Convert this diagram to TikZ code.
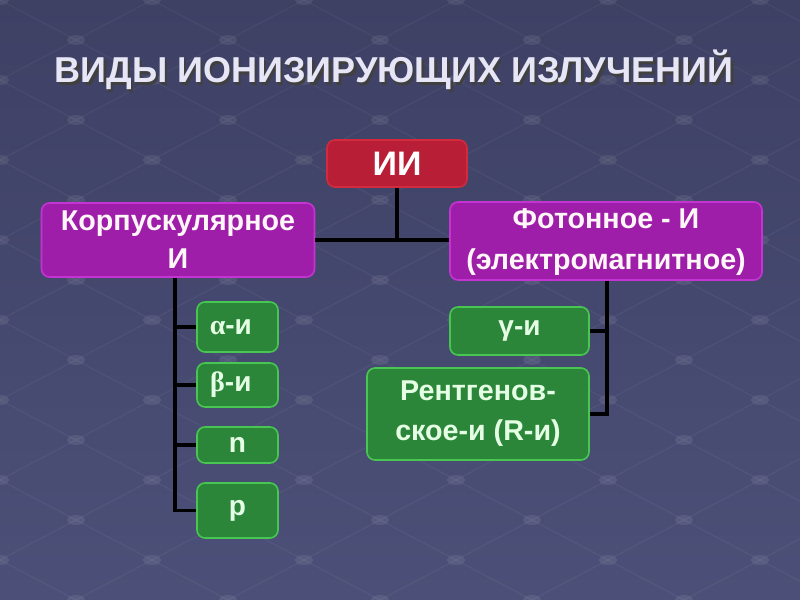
\documentclass[tikz,border=0pt]{standalone}
\usepackage{fontspec}
\setmainfont{Liberation Sans}
\newfontfamily\griech{Liberation Serif}
\usepackage{tikz}
\usetikzlibrary{positioning}

\definecolor{bgtop}{RGB}{62,64,100}
\definecolor{bgbot}{RGB}{76,80,120}
\definecolor{rotfill}{RGB}{184,30,54}
\definecolor{rotrand}{RGB}{212,42,62}
\definecolor{lilafill}{RGB}{158,30,170}
\definecolor{lilarand}{RGB}{196,52,210}
\definecolor{gruenfill}{RGB}{44,134,58}
\definecolor{gruenrand}{RGB}{72,198,82}
\definecolor{titelfarbe}{RGB}{230,230,246}

\tikzset{
  kasten/.style={rounded corners=6pt, line width=1.2pt, align=center, inner sep=0pt},
  rotbox/.style={kasten, fill=rotfill, draw=rotrand, text=white},
  lilabox/.style={kasten, fill=lilafill, draw=lilarand, text=white!88!pink},
  gruenbox/.style={kasten, fill=gruenfill, draw=gruenrand, text=white!90!green,
    font=\bfseries\fontsize{21}{25}\selectfont},
  linie/.style={line width=2.6pt, black},
  gitter/.style={white, opacity=0.05, line width=0.8pt},
  punkt/.style={white, opacity=0.08},
}

\begin{document}
\begin{tikzpicture}[x=0.75pt, y=-0.75pt]
    \useasboundingbox (0,0) rectangle (800,600);
    % Hintergrund
    \shade[top color=bgtop, bottom color=bgbot] (0,0) rectangle (800,600);
    \begin{scope}
        \clip (0,0) rectangle (800,600);
        \foreach \k in {-6,...,14} {
            \draw[gitter] (-50,80*\k-26.3) -- (850,80*\k+447.4);
            \draw[gitter] (-50,80*\k+26.3) -- (850,80*\k-447.4);
        }
        \foreach \i in {0,...,11} {
            \foreach \j in {0,2,...,14} {
                \fill[punkt] ({76*\i},{40*\j+40*mod(\i,2)}) ellipse [x radius=9, y radius=5];
            }
        }
    \end{scope}

    % Titel
    \node[text=black!75, font=\bfseries\fontsize{27}{32}\selectfont] (titelschatten) at (396.5,72.5) {ВИДЫ ИОНИЗИРУЮЩИХ ИЗЛУЧЕНИЙ};
    \node[text=titelfarbe, font=\bfseries\fontsize{27}{32}\selectfont] (titel) at (394,70) {ВИДЫ ИОНИЗИРУЮЩИХ ИЗЛУЧЕНИЙ};

    % Kaesten
    \node[rotbox, minimum width=105pt, minimum height=35.25pt, font=\bfseries\fontsize{25.5}{30}\selectfont] (ii) at (397,163.5) {ИИ};
    \node[lilabox, minimum width=204.75pt, minimum height=55.5pt, font=\bfseries\fontsize{21.5}{28.5}\selectfont] (korp) at (178,240) {Корпускулярное\\И};
    \node[lilabox, minimum width=234pt, minimum height=58.5pt, font=\bfseries\fontsize{21.5}{31}\selectfont, text depth=3pt] (foton) at (606,241) {Фотонное - И\\(электромагнитное)};

    \node[gruenbox, minimum width=60.75pt, minimum height=37.5pt] (alpha) at (237.5,327) {{\griech α}-и\hspace*{10pt}};
    \node[gruenbox, minimum width=60.75pt, minimum height=33pt] (beta) at (237.5,385) {{\griech β}-и\hspace*{10pt}};
    \node[gruenbox, minimum width=60.75pt, minimum height=27pt] (neutron) at (237.5,445) {n};
    \node[gruenbox, minimum width=60.75pt, minimum height=41.25pt] (proton) at (237.5,510.5) {p};

    \node[gruenbox, minimum width=104.25pt, minimum height=36pt] (gamma) at (519.5,331) {γ-и};
    \node[gruenbox, minimum width=166.5pt, minimum height=69pt, font=\bfseries\fontsize{21.5}{30}\selectfont] (rentgen) at (478,414) {Рентгенов-\\ское-и (R-и)};

    % Verbindungen
    \draw[linie] (ii.south) -- (ii.south |- korp.east);
    \draw[linie] (korp.east) -- (foton.west |- korp.east);

    \coordinate (lunten) at (175,510.5);
    \draw[linie] (korp.south -| lunten) -- (lunten) -- (proton.west);
    \foreach \k in {alpha,beta,neutron} {
        \draw[linie] (\k.west -| lunten) -- (\k.west);
    }

    \coordinate (runten) at (607,414);
    \draw[linie] (foton.south -| runten) -- (runten) -- (rentgen.east);
    \draw[linie] (gamma.east -| runten) -- (gamma.east);
\end{tikzpicture}
\end{document}
